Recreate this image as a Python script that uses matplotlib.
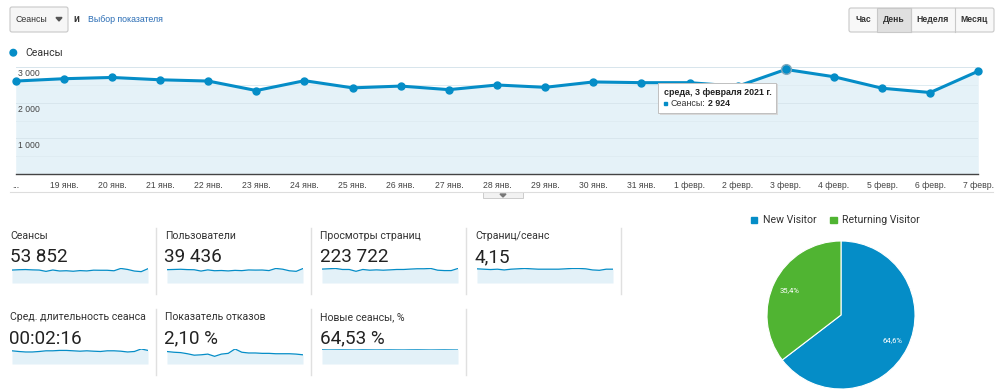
import matplotlib
matplotlib.use("Agg")
import matplotlib.pyplot as plt
from matplotlib.patches import FancyBboxPatch, Rectangle, Polygon, Circle

plt.rcParams["font.family"] = ["Roboto", "DejaVu Sans"]

W, H = 1000, 391
BLUE = "#058dc7"
GREEN = "#50b432"
ARIAL = ["Liberation Sans", "DejaVu Sans"]

# ---------------------------------------------------------------- data
dates = ["...", "19 янв.", "20 янв.", "21 янв.", "22 янв.", "23 янв.", "24 янв.",
         "25 янв.", "26 янв.", "27 янв.", "28 янв.", "29 янв.", "30 янв.",
         "31 янв.", "1 февр.", "2 февр.", "3 февр.", "4 февр.", "5 февр.",
         "6 февр.", "7 февр."]
sessions = [2600, 2665, 2700, 2635, 2600, 2335, 2610, 2410, 2460, 2360, 2490,
            2425, 2575, 2555, 2555, 2455, 2924, 2720, 2400, 2280, 2876]
y_ticks = [1000, 2000, 3000]
y_tick_labels = ["1 000", "2 000", "3 000"]
hover_idx = 16
tooltip_title = "среда, 3 февраля 2021 г."
tooltip_value = "2 924"

users = [1930, 1960, 1990, 1940, 1920, 1730, 1900, 1780, 1810, 1750, 1830,
         1790, 1890, 1870, 1880, 1800, 2110, 2000, 1770, 1690, 2100]
pageviews = [10700, 10950, 11200, 10400, 10400, 9000, 10400, 9850, 10100, 9850,
             10100, 10400, 10400, 10700, 10950, 10950, 11200, 9850, 9550, 9550,
             11200]
pages_per_session = [4.32, 4.21, 4.10, 4.21, 3.98, 4.21, 4.32, 4.44, 4.32, 4.21,
                     4.21, 4.21, 4.21, 4.32, 4.44, 4.44, 4.32, 3.98, 3.87, 4.21,
                     4.21]
avg_duration = [135, 128, 123, 123, 128, 135, 135, 139, 139, 135, 131, 135, 131,
                128, 135, 135, 131, 123, 128, 154, 139]
bounce_rate = [2.32, 2.19, 2.12, 1.91, 1.64, 1.71, 1.84, 1.43, 1.84, 1.98, 2.80,
               2.19, 2.05, 2.05, 1.98, 1.98, 1.91, 1.91, 1.91, 1.84, 1.71]
new_sessions = [64.2, 64.8, 64.5, 64.3, 64.6, 64.9, 64.1, 64.4, 64.7, 64.5, 64.3,
                64.6, 64.8, 64.4, 64.2, 64.5, 64.9, 64.6, 64.3, 64.7, 65.0]

row1_titles = ["Сеансы", "Пользователи", "Просмотры страниц", "Страниц/сеанс"]
row1_values = ["53 852", "39 436", "223 722", "4,15"]
row1_sparks = [sessions, users, pageviews, pages_per_session]
row2_titles = ["Сред. длительность сеанса", "Показатель отказов", "Новые сеансы, %"]
row2_values = ["00:02:16", "2,10 %", "64,53 %"]
row2_sparks = [avg_duration, bounce_rate, new_sessions]

pie_labels = ["New Visitor", "Returning Visitor"]
pie_values = [64.6, 35.4]
pie_colors = [BLUE, GREEN]

buttons = ["Час", "День", "Неделя", "Месяц"]
active_button = "День"

# -------------------------------------------------------------- layout
fig = plt.figure(figsize=(W / 100, H / 100), dpi=100)


def px_axes(x0, y0, x1, y1):
    return fig.add_axes([x0 / W, 1 - y1 / H, (x1 - x0) / W, (y1 - y0) / H])


bg = fig.add_axes([0, 0, 1, 1])
bg.set_xlim(0, W); bg.set_ylim(H, 0); bg.axis("off")

# top controls
bg.add_patch(FancyBboxPatch((10, 7), 58, 25, boxstyle="round,pad=0,rounding_size=2",
                            fc="#f6f6f6", ec="#c8c8c8", lw=0.8))
bg.text(16, 19.5, "Сеансы", fontsize=6.3, color="#333", va="center", family=ARIAL)
bg.add_patch(Polygon([(56, 17.5), (62, 17.5), (59, 21)], color="#555"))
bg.text(73, 19, "и", fontsize=7, color="#333", va="center", weight="bold", family=ARIAL)
bg.text(88, 19.5, "Выбор показателя", fontsize=6.3, color="#2a6db5", va="center",
        family=ARIAL)

bx = [849, 877, 911, 955, 994]
bg.add_patch(FancyBboxPatch((bx[0], 8), bx[-1] - bx[0], 24,
                            boxstyle="round,pad=0,rounding_size=2",
                            fc="#f8f8f8", ec="#c8c8c8", lw=0.8))
for i, b in enumerate(buttons):
    if b == active_button:
        bg.add_patch(Rectangle((bx[i], 8), bx[i + 1] - bx[i], 24, fc="#e0e0e0",
                               ec="#c8c8c8", lw=0.8))
    elif i > 0:
        bg.plot([bx[i], bx[i]], [8, 32], color="#c8c8c8", lw=0.8)
    bg.text((bx[i] + bx[i + 1]) / 2, 20, b, fontsize=6.2, weight="bold",
            color="#333", ha="center", va="center", family=ARIAL)

# legend of main chart
bg.add_patch(Circle((13.3, 52.7), 3.3, color=BLUE))
bg.text(25, 52.7, "Сеансы", fontsize=7.6, color="#333", va="center")

# ----------------------------------------------------------- main chart
ax = px_axes(15.7, 66.7, 978.3, 174.3)
x = list(range(len(sessions)))
ax.set_xlim(0, len(sessions) - 1)
ax.set_ylim(0, 3000)
for v in range(500, 3001, 500):
    ax.axhline(v, color="#dcdcdc" if v % 1000 == 0 else "#ececec", lw=0.7, zorder=0)
ax.fill_between(x, sessions, color="#e5f2f8", lw=0, zorder=1)
for v in range(500, 3001, 500):
    ax.axhline(v, color="#d8e6ed" if v % 1000 == 0 else "#dfecf2", lw=0.7, zorder=1.5)
ax.plot(x, sessions, color=BLUE, lw=2.2, marker="o", ms=5, clip_on=False, zorder=3)
ax.plot(hover_idx, sessions[hover_idx], "o", ms=7, mfc=BLUE, mec="#7fa9bd", mew=1,
        clip_on=False, zorder=4)
for v, lab in zip(y_ticks, y_tick_labels):
    ax.annotate(lab, (0, v), xytext=(2, -1.5), textcoords="offset points",
                va="top", ha="left", fontsize=6.2, color="#444", family=ARIAL,
                zorder=5)
for s in ("top", "left", "right"):
    ax.spines[s].set_visible(False)
ax.spines["bottom"].set_color("#444")
ax.spines["bottom"].set_linewidth(1)
ax.set_yticks([])
ax.set_xticks(x, dates)
ax.tick_params(axis="x", length=0, pad=4.5, labelsize=6.2, labelcolor="#444")
for t in ax.get_xticklabels():
    t.set_family(ARIAL)

bg.plot([10, 993], [191.7, 191.7], color="#dddddd", lw=0.8)
bg.add_patch(Rectangle((483, 191.7), 40, 6.5, fc="#f2f2f2", ec="#cccccc", lw=0.7))
bg.add_patch(Polygon([(500, 194), (506, 194), (503, 197)], color="#777"))

# ----------------------------------------------------------- scorecards
cols = [10, 165, 320, 475]
for row, (titles, values, sparks, ty, vy, sy0, sy1) in enumerate([
        (row1_titles, row1_values, row1_sparks, 236, 257.5, 268, 283),
        (row2_titles, row2_values, row2_sparks, 317, 338.5, 348.5, 364)]):
    for cx, t, v, s in zip(cols, titles, values, sparks):
        bg.text(cx, ty, t, fontsize=7.6, color="#333", va="center")
        bg.text(cx - 0.5, vy, v, fontsize=13.6, color="#222", va="center")
        sa = px_axes(cx + 2, sy0, cx + 138, sy1)
        sx = list(range(len(s)))
        sa.fill_between(sx, s, color="#e3f1f8", lw=0)
        sa.plot(sx, s, color=BLUE, lw=0.9)
        sa.set_xlim(0, len(s) - 1)
        sa.set_ylim(0, max(s) * 1.03)
        sa.axis("off")
for sx_ in [156, 311, 466, 621]:
    bg.plot([sx_, sx_], [228, 294], color="#e0e0e0", lw=1)
for sx_ in [156, 311, 466]:
    bg.plot([sx_, sx_], [309, 375], color="#e0e0e0", lw=1)

# ------------------------------------------------------------------ pie
lx = [750.7, 830]
for i, (lab, c) in enumerate(zip(pie_labels, pie_colors)):
    bg.add_patch(Rectangle((lx[i], 216.5), 6.7, 6.7, color=c))
    bg.text(lx[i] + 12.5, 220, lab, fontsize=7.6, color="#333", va="center")

pa = px_axes(767, 241, 915, 389)
pa.pie(pie_values, colors=pie_colors, startangle=90, counterclock=False,
       wedgeprops=dict(edgecolor="white", linewidth=0.8),
       autopct=lambda p: f"{p:.1f}%".replace(".", ","), pctdistance=0.77,
       textprops=dict(color="white", fontsize=5.5))
pa.set_xlim(-1, 1); pa.set_ylim(-1, 1)

# -------------------------------------------------------------- tooltip
top = fig.add_axes([0, 0, 1, 1])
top.set_xlim(0, W); top.set_ylim(H, 0); top.axis("off")
top.patch.set_alpha(0)
top.add_patch(Rectangle((659.5, 84.2), 118, 30.6, fc="#d8d8d8", ec="none"))
top.add_patch(Rectangle((658, 82.7), 118, 30.6, fc="white", ec="#c0c0c0", lw=0.7))
top.text(664, 92.3, tooltip_title, fontsize=6.4, weight="bold", color="#222",
         va="center", family=ARIAL)
top.add_patch(Rectangle((664, 102), 3.4, 3.4, color=BLUE))
top.text(670.5, 103.7, "Сеансы:", fontsize=6.4, color="#333", va="center",
         family=ARIAL)
top.text(707.5, 103.7, tooltip_value, fontsize=6.4, weight="bold", color="#222",
         va="center", family=ARIAL)

fig.savefig("out.png", dpi=100)
